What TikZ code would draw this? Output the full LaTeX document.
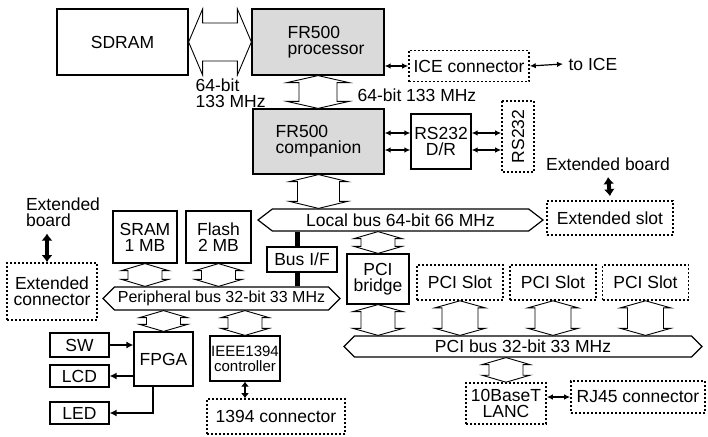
\documentclass[tikz,border=0pt]{standalone}
\usepackage{fontspec}
\setmainfont{Liberation Sans}
\usepackage{xcolor}
\definecolor{chipgray}{HTML}{DADADA}
\usetikzlibrary{arrows.meta, shapes.symbols, calc}

% wide bus arrows: #1 top point, #2 bottom point, #3 half shaft, #4 half head
\newcommand{\vfat}[4]{%
  \draw[fat] let \p1=(#1), \p2=(#2) in
    (\p1) -- (\x1-#4,\y1-7pt) -- (\x1-#3,\y1-7pt) -- (\x1-#3,\y2+7pt)
    -- (\x1-#4,\y2+7pt) -- (\x1,\y2) -- (\x1+#4,\y2+7pt) -- (\x1+#3,\y2+7pt)
    -- (\x1+#3,\y1-7pt) -- (\x1+#4,\y1-7pt) -- cycle;}
\newcommand{\hfat}[5]{%
  \draw[fat] let \p1=(#1), \p2=(#2) in
    (\p1) -- (\x1+#5,\y1+#4) -- (\x1+#5,\y1+#3) -- (\x2-#5,\y1+#3)
    -- (\x2-#5,\y1+#4) -- (\x2,\y1) -- (\x2-#5,\y1-#4) -- (\x2-#5,\y1-#3)
    -- (\x1+#5,\y1-#3) -- (\x1+#5,\y1-#4) -- cycle;}

\begin{document}
\begin{tikzpicture}[x=1pt, y=-1pt, line width=1.2pt,
  font=\fontsize{17.5}{16}\selectfont,
  box/.style={draw, inner sep=1pt, align=center},
  chip/.style={box, fill=chipgray, align=left},
  slot/.style={draw, dash pattern=on 2pt off 2pt, line width=1.6pt, inner sep=1pt, align=center},
  bus/.style={draw, shape=signal, signal to=west and east, inner sep=0pt},
  fat/.style={line width=0.9pt, fill=white},
  link/.style={{Latex[length=6pt,width=5.5pt]}-{Latex[length=6pt,width=5.5pt]}, line width=1.2pt},
  heavy/.style={{Latex[length=7pt,width=11pt]}-{Latex[length=7pt,width=11pt]}, line width=4pt},
  mid/.style={{Latex[length=5pt,width=8pt]}-{Latex[length=5pt,width=8pt]}, line width=2.5pt},
  drive/.style={-{Latex[length=7pt,width=7pt]}, line width=2.4pt}]
  \useasboundingbox (0,0) rectangle (708,436);

  % processor and memory
  \node[box, minimum width=131pt, minimum height=66pt] (sdram) at (122.5,42) {SDRAM};
  \node[chip, minimum width=132pt, minimum height=66pt] (proc) at (318,42) {\hspace*{16pt}FR500\\\hspace*{16pt}processor};
  \hfat{sdram.east}{proc.west}{19pt}{33pt}{14pt}
  \node[anchor=north west, align=left, inner sep=0pt] (sdlbl) at (195,78) {64-bit\\133 MHz};

  \node[slot, minimum width=120pt, minimum height=31pt] (ice) at (469,66) {ICE connector};
  \node[anchor=west, inner sep=0pt] (toice) at (568,64) {to ICE};
  \draw[link] (proc.east |- ice.west) -- (ice.west);
  \draw[link] (ice.east) -- ([xshift=-5pt]toice.west);

  \node[chip, minimum width=131pt, minimum height=65pt] (comp) at (318.5,141.5) {FR500\\companion};
  \vfat{proc.south}{comp.north}{19pt}{31pt}
  \node[anchor=west, inner sep=0pt] (pclbl) at (357,95) {64-bit 133 MHz};

  % serial port
  \node[box, minimum width=60pt, minimum height=55pt] (dr) at (441,141.5) {RS232\\D/R};
  \node[slot, minimum width=71pt, minimum height=32pt, rotate=90] (rs) at (518,136.5) {RS232};
  \coordinate (dr1) at ([yshift=8.5pt]dr.east);
  \coordinate (dr2) at ([yshift=-8.5pt]dr.east);
  \draw[link] ([yshift=8.5pt]comp.east) -- ([yshift=8.5pt]dr.west);
  \draw[link] ([yshift=-8.5pt]comp.east) -- ([yshift=-8.5pt]dr.west);
  \draw[link] (dr1) -- (dr1 -| rs.north);
  \draw[link] (dr2) -- (dr2 -| rs.north);

  % local bus
  \node[bus, minimum width=285pt, minimum height=22pt, signal pointer angle=75] (lbus) at (400.5,220) {Local bus 64-bit 66 MHz};
  \vfat{comp.south}{lbus.north}{21pt}{29pt}
  \node[inner sep=0pt] (extbr) at (608,164) {Extended board};
  \node[slot, minimum width=126pt, minimum height=34pt] (eslot) at (610,218) {Extended slot};
  \draw[heavy] ([yshift=-6pt]extbr.south) -- ([yshift=4pt]eslot.north);

  % peripheral bus
  \node[align=left, inner sep=0pt] (extbl) at (63,212.5) {Extended\\board};
  \node[slot, minimum width=90pt, minimum height=57pt] (extc) at (52,291.5) {Extended\\connector};
  \coordinate (eb) at ([xshift=-16pt,yshift=-6pt]extbl.south);
  \draw[heavy] (eb) -- (eb |- extc.north);

  \node[box, minimum width=64pt, minimum height=52pt] (sram) at (145,237) {SRAM\\1 MB};
  \node[box, minimum width=65pt, minimum height=52pt] (flash) at (218.5,237) {Flash\\2 MB};
  \node[bus, minimum width=237pt, minimum height=23pt, signal pointer angle=90,
    font=\fontsize{16}{16}\selectfont] (pbus) at (221.5,298.5) {Peripheral bus 32-bit 33 MHz};
  \vfat{sram.south}{pbus.north}{17pt}{23.5pt}
  \vfat{flash.south}{pbus.north}{17pt}{23.5pt}

  \node[box, minimum width=70pt, minimum height=25pt] (busif) at (302,259.5) {Bus I/F};
  \coordinate (bar) at (297,0);
  \draw[line width=5pt] (lbus.south -| bar) -- (busif.north -| bar);
  \draw[line width=5pt] (busif.south -| bar) -- (pbus.north -| bar);

  % PCI side
  \node[box, minimum width=62pt, minimum height=50pt] (bridge) at (378,279) {PCI\\bridge};
  \vfat{lbus.south -| bridge}{bridge.north}{17pt}{24pt}
  \node[slot, minimum width=86pt, minimum height=35pt] (slot1) at (460,282.5) {PCI Slot};
  \node[slot, minimum width=86pt, minimum height=35pt] (slot2) at (553,282.5) {PCI Slot};
  \node[slot, minimum width=86pt, minimum height=35pt] (slot3) at (645.5,282.5) {PCI Slot};
  \node[bus, minimum width=358pt, minimum height=21pt, signal pointer angle=90] (pcibus) at (523,346.5) {PCI bus 32-bit 33 MHz};
  \vfat{bridge.south}{pcibus.north}{17pt}{25pt}
  \vfat{slot1.south}{pcibus.north}{18pt}{25pt}
  \vfat{slot2.south}{pcibus.north}{18pt}{25pt}
  \vfat{slot3.south}{pcibus.north}{18pt}{25pt}

  \node[slot, minimum width=80pt, minimum height=41pt] (lan) at (506,403.5) {10BaseT\\LANC};
  \vfat{pcibus.south -| lan}{lan.north}{17pt}{24pt}
  \node[slot, minimum width=134pt, minimum height=32pt] (rj) at (638,397) {RJ45 connector};
  \draw[link] (rj.west -| lan.east) -- (rj.west);

  % FPGA and 1394
  \node[box, minimum width=59pt, minimum height=54pt] (fpga) at (163.5,359) {FPGA};
  \vfat{pbus.south -| fpga}{fpga.north}{17pt}{24pt}
  \node[box, minimum width=70pt, minimum height=45pt, inner sep=0pt,
    font=\fontsize{15}{15}\selectfont] (ieee) at (245,358.5) {IEEE1394\\controller};
  \vfat{pbus.south -| ieee}{ieee.north}{17pt}{24pt}

  \node[box, minimum width=59pt, minimum height=24pt] (sw) at (79.5,345) {SW};
  \node[box, minimum width=59pt, minimum height=22pt] (lcd) at (79.5,376) {LCD};
  \node[box, minimum width=59pt, minimum height=22pt] (led) at (79.5,413) {LED};
  \draw[drive] (sw.east) -- (sw.east -| fpga.west);
  \draw[drive] (lcd.east -| fpga.west) -- (lcd.east);
  \draw[drive] ([xshift=-10.5pt]fpga.south) |- (led.east);

  \node[slot, minimum width=138pt, minimum height=35pt] (c1394) at (276,416.5) {1394 connector};
  \draw[mid] (ieee.south) -- (ieee.south |- c1394.north);
\end{tikzpicture}
\end{document}
